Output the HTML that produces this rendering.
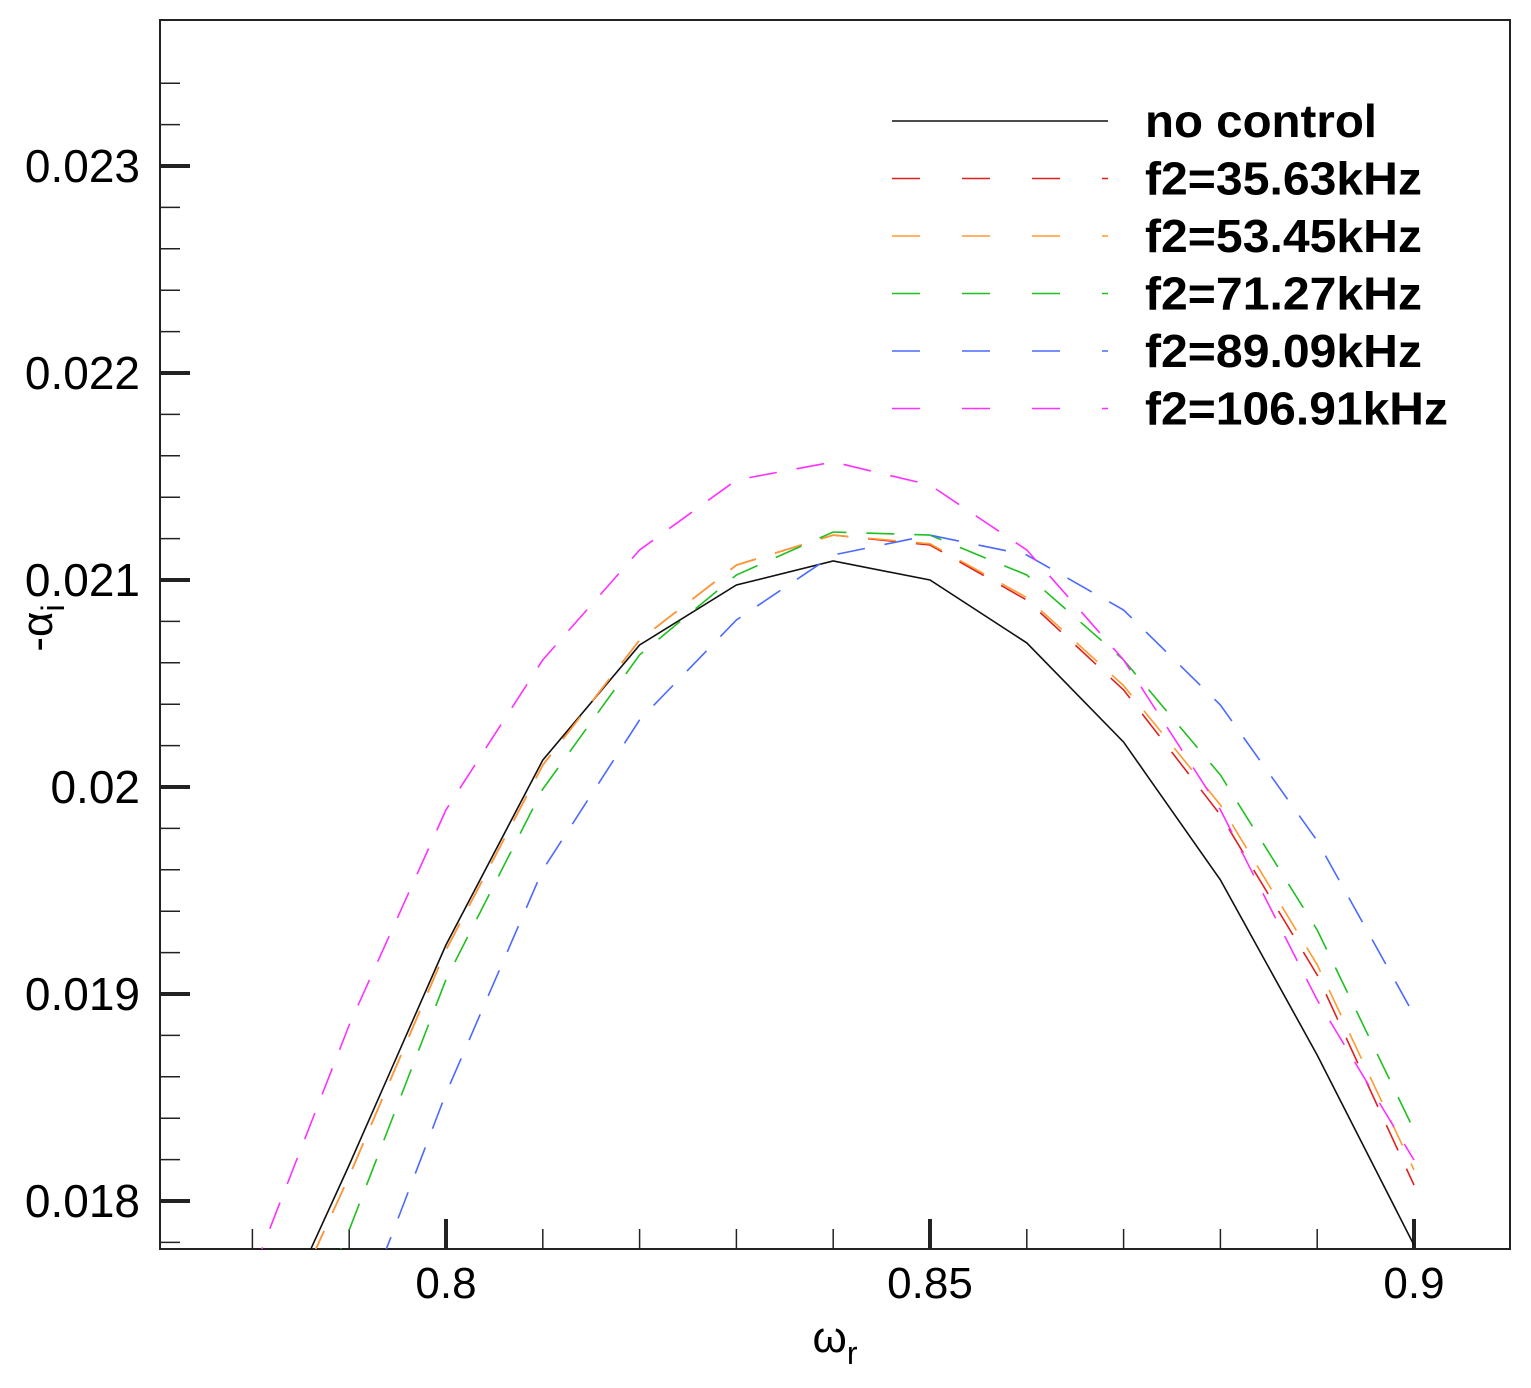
<!DOCTYPE html>
<html><head><meta charset="utf-8">
<style>
html,body{margin:0;padding:0;background:#fff;overflow:hidden;width:1531px;height:1388px;}
svg{display:block;font-family:"Liberation Sans",Arial,sans-serif;}
</style></head>
<body>
<svg id="chart" width="1531" height="1388" viewBox="0 0 1531 1388" xmlns="http://www.w3.org/2000/svg">
<defs><clipPath id="plotclip"><rect x="160" y="20" width="1350" height="1229"/></clipPath></defs>
<rect x="160" y="20" width="1350" height="1229" fill="#fff" stroke="#222" stroke-width="2"/>
<g id="ticks"></g>
<g id="series" clip-path="url(#plotclip)"></g>
<g id="legend"></g>
<text x="835" y="1352" font-size="44" text-anchor="middle">ω<tspan font-size="32" dy="12">r</tspan></text>
<text transform="translate(52,628) rotate(-90)" font-size="44" text-anchor="middle">-α<tspan font-size="32" dy="12">i</tspan></text>
</svg>
<script>
const xCats = [0.78,0.79,0.80,0.81,0.82,0.83,0.84,0.85,0.86,0.87,0.88,0.89,0.90];
const noControl = [0.01715,0.018174,0.019237,0.02013,0.020686,0.020976,0.021092,0.021,0.020696,0.020217,0.019551,0.018705,0.017787];
const f35 = [0.0171,0.01812,0.019213,0.020106,0.02071,0.021072,0.021217,0.021169,0.020903,0.020469,0.019865,0.019092,0.018077];
const f53 = [0.0171,0.01812,0.019213,0.020106,0.02071,0.021072,0.021217,0.021175,0.020915,0.02049,0.019913,0.019141,0.01815];
const f71 = [0.0168,0.01786,0.01907,0.01999,0.020638,0.021024,0.021232,0.021217,0.021024,0.020614,0.020058,0.019309,0.018343];
const f89 = [0.0162,0.0173,0.01852,0.0196,0.020324,0.020807,0.021121,0.021217,0.021121,0.020855,0.020396,0.01974,0.018899];
const f106 = [0.01765,0.01885,0.01989,0.020614,0.021145,0.021483,0.02157,0.021459,0.021145,0.020614,0.01989,0.018971,0.018198];
const yTickLabels = ["0.018","0.019","0.02","0.021","0.022","0.023"];
const xTickLabels = ["0.8","0.85","0.9"];
const legendLabels = ["no control","f2=35.63kHz","f2=53.45kHz","f2=71.27kHz","f2=89.09kHz","f2=106.91kHz"];

const X = v => 446 + (v-0.8)*9680;
const Y = v => 1201 - (v-0.018)*207000;
const NS = "http://www.w3.org/2000/svg";
function mk(tag, attrs, parent){const e=document.createElementNS(NS,tag);for(const k in attrs)e.setAttribute(k,attrs[k]);parent.appendChild(e);return e;}

const ticks = document.getElementById('ticks');
for(let i=0;i<=28;i++){
  const v = 0.0178 + i*0.0002;
  const y = Y(v);
  if(y<20||y>1249) continue;
  const major = Math.abs((v*1000)-Math.round(v*1000))<1e-6;
  const t = mk('line',{x1:160,x2:major?190:180,y1:y,y2:y,stroke:'#222','stroke-width':major?4:1.5},ticks);
  
  
}
yTickLabels.forEach(s=>{
  const t = mk('text',{x:140,y:Y(parseFloat(s))+16,'font-size':46,'text-anchor':'end'},ticks);
  t.textContent=s;
  
  
});
for(let i=0;i<=14;i++){
  const v = 0.77 + i*0.01;
  const x = X(v);
  if(x<160||x>1510) continue;
  const major = Math.abs(v*20-Math.round(v*20))<1e-6;
  const t = mk('line',{x1:x,x2:x,y1:1249,y2:major?1219:1229,stroke:'#222','stroke-width':major?4:1.5},ticks);
  
  
}
xTickLabels.forEach(s=>{
  const t = mk('text',{x:X(parseFloat(s)),y:1298,'font-size':44,'text-anchor':'middle'},ticks);
  t.textContent=s;
  
  
});

const seriesG = document.getElementById('series');
const allSeries = [noControl,f35,f53,f71,f89,f106];
const colors = ['#111','#e02020','#ff9a30','#20c020','#4a6aff','#ff30ff'];
const names = ['line-no-control','line-f2-35','line-f2-53','line-f2-71','line-f2-89','line-f2-106'];
allSeries.forEach((s,i)=>{
  const pts = s.map((v,j)=>X(xCats[j]).toFixed(1)+','+Y(v).toFixed(1)).join(' ');
  const p = mk('polyline',{points:pts,fill:'none',stroke:colors[i],'stroke-width':1.6},seriesG);
  if(i>0) p.setAttribute('stroke-dasharray','28 20');
  
  
});

const leg = document.getElementById('legend');
legendLabels.forEach((s,i)=>{
  const y = 121 + i*57.5;
  const l = mk('line',{x1:892,x2:1108,y1:y,y2:y,stroke:colors[i],'stroke-width':1.6},leg);
  if(i>0) l.setAttribute('stroke-dasharray','28 42');
  
  
  const t = mk('text',{x:1145,y:y+16,'font-size':46,'font-weight':'bold','textLength':s.length>10?(s.length===12?303:277):232,'lengthAdjust':'spacingAndGlyphs'},leg);
  t.textContent=s;
  
  
});
</script>
</body></html>
